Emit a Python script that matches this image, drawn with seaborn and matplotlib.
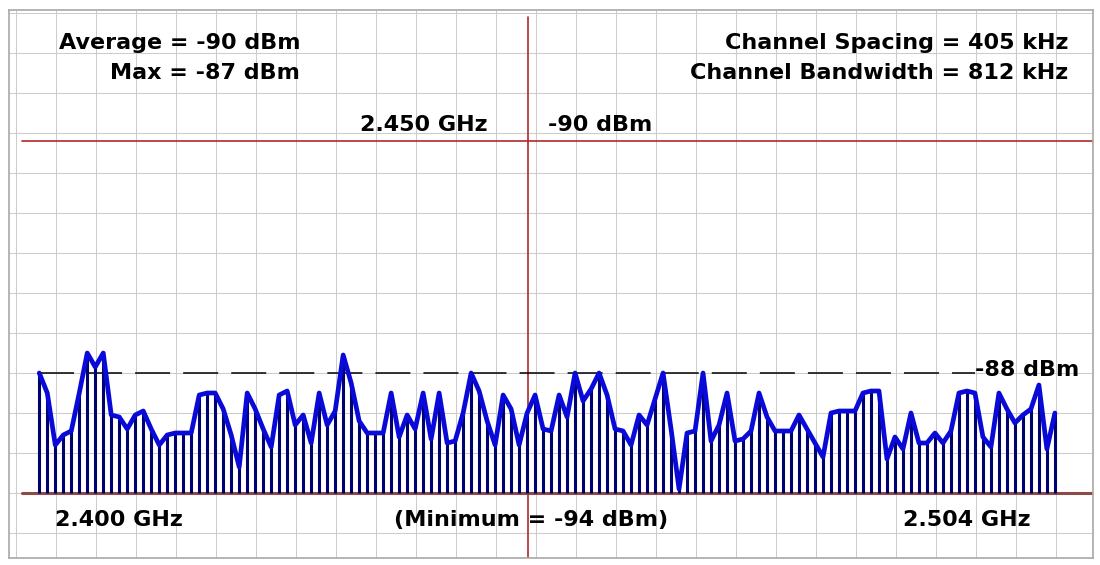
import numpy as np
import matplotlib
matplotlib.use("Agg")
import matplotlib.pyplot as plt
import seaborn as sns

# channel levels in dBm, 2.400 -> 2.504 GHz
levels = [
    -88.0, -89.0, -91.6, -91.1, -90.9, -89.0, -87.0, -87.7, -87.0, -90.1,
    -90.2, -90.8, -90.1, -89.9, -90.8, -91.6, -91.1, -91.0, -91.0, -91.0,
    -89.1, -89.0, -89.0, -89.8, -91.1, -92.7, -89.0, -89.8, -90.8, -91.7,
    -89.1, -88.9, -90.6, -90.1, -91.5, -89.0, -90.6, -89.9, -87.1, -88.5,
    -90.4, -91.0, -91.0, -91.0, -89.0, -91.2, -90.1, -90.8, -89.0, -91.3,
    -89.0, -91.5, -91.4, -90.0, -88.0, -88.9, -90.4, -91.6, -89.1, -89.8,
    -91.6, -90.0, -89.1, -90.8, -90.9, -89.1, -90.2, -88.0, -89.4, -88.8,
    -88.0, -89.1, -90.8, -90.9, -91.6, -90.1, -90.6, -89.3, -88.0, -90.8,
    -93.8, -91.0, -90.9, -88.0, -91.4, -90.6, -89.0, -91.4, -91.3, -90.9,
    -89.0, -90.2, -90.9, -90.9, -90.9, -90.1, -90.8, -91.5, -92.2, -90.0,
    -89.9, -89.9, -89.9, -89.0, -88.9, -88.9, -92.3, -91.2, -91.8, -90.0,
    -91.5, -91.5, -91.0, -91.5, -90.9, -89.0, -88.9, -89.0, -91.2, -91.7,
    -89.0, -89.8, -90.5, -90.1, -89.8, -88.6, -91.8, -90.0,
]
f_start = 2400.0   # MHz
f_stop = 2504.0
floor_dbm = -94
threshold_dbm = -88
marker_freq = 2450.0
marker_level = -76.4   # where the cursor line sits on screen
label_x = 2495.8       # where the -88 dBm label starts

freq = np.linspace(f_start, f_stop, len(levels))

sns.set_style("white")
plt.rcParams['font.family'] = ['DejaVu Sans']
plt.rcParams['lines.scale_dashes'] = False

fig = plt.figure(figsize=(11, 5.65), dpi=100, facecolor="white")
ax = fig.add_axes([9 / 1100, 7 / 565, 1084 / 1100, 548 / 565])
ax.set_xlim(2396.9, 2507.9)
ax.set_ylim(-97.25, -69.85)

# screen grid
ax.set_xticks(np.arange(2397.65, 2508, 4.0946))
ax.set_yticks(np.arange(-96, -69, 2))
ax.grid(True, color="#cccccc", linewidth=0.75)
ax.tick_params(length=0, labelbottom=False, labelleft=False)
for s in ax.spines.values():
    s.set_color("#a8a8a8")
    s.set_linewidth(1.2)

# cursors
ax.axhline(marker_level, xmin=0.012, xmax=1, color="#b02a2a", linewidth=1.2, zorder=2)
ax.axvline(marker_freq, ymin=0, ymax=0.987, color="#b02a2a", linewidth=1.2, zorder=2)
ax.axhline(floor_dbm, xmin=0.012, xmax=1, color="#8c4a48", linewidth=2.2, zorder=2)

# threshold dashes
ax.plot([f_start, label_x], [threshold_dbm, threshold_dbm], color="black",
        linewidth=1.1, dashes=(25.2, 9.4), zorder=2)

# stems + trace
ax.vlines(freq, floor_dbm, levels, colors="#00006e", linewidth=2.2, zorder=3)
sns.lineplot(x=freq, y=levels, ax=ax, color="#0a0ad8", linewidth=3.4, zorder=4)

txt = dict(fontsize=16, fontweight="bold", color="black", va="center", zorder=5)
ax.text(2426.7, -71.5, "Average = -90 dBm", ha="right", **txt)
ax.text(2426.7, -73.0, "Max = -87 dBm", ha="right", **txt)
ax.text(2505.4, -71.5, "Channel Spacing = 405 kHz", ha="right", **txt)
ax.text(2505.4, -73.0, "Channel Bandwidth = 812 kHz", ha="right", **txt)
ax.text(2445.9, -75.6, "2.450 GHz", ha="right", **txt)
ax.text(2452.1, -75.6, "-90 dBm", ha="left", **txt)
ax.text(label_x, -87.85, "-88 dBm", ha="left", **txt)
ax.text(2401.6, -95.35, "2.400 GHz", ha="left", **txt)
ax.text(2450.4, -95.35, "(Minimum = -94 dBm)", ha="center", **txt)
ax.text(2501.5, -95.35, "2.504 GHz", ha="right", **txt)

fig.savefig("out.png", dpi=100, facecolor=fig.get_facecolor())
